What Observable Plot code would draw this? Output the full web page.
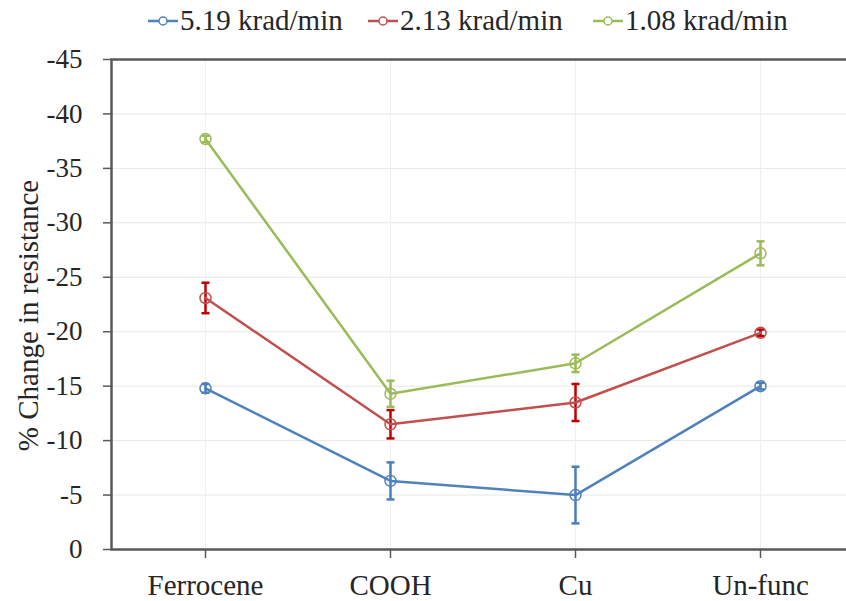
<!DOCTYPE html>
<html>
<head>
<meta charset="utf-8">
<script src="https://cdn.jsdelivr.net/npm/d3@7"></script>
<script src="https://cdn.jsdelivr.net/npm/@observablehq/plot@0.6"></script>
</head>
<body style="margin:0;padding:0;background:#fff;overflow:hidden;font-family:'Liberation Serif'">
<div id="wrap" style="position:relative;width:846px;height:601px;">
  <div id="legend" style="position:absolute;top:4px;left:0;width:846px;height:40px;font-family:'Liberation Serif';font-size:29px;color:#262626;"></div>
</div>
<script>
const categories = ["Ferrocene", "COOH", "Cu", "Un-func"];
const seriesNames = ["5.19 krad/min", "2.13 krad/min", "1.08 krad/min"];
const lineColors = ["#4f81bd", "#c0504d", "#9bbb59"];
const barColors = ["#4a7ebb", "#c00000", "#9bbb59"];
const values519 = [-14.8, -6.3, -5.0, -15.0];
const errors519 = [0.4, 1.7, 2.6, 0.3];
const values213 = [-23.1, -11.5, -13.5, -19.9];
const errors213 = [1.4, 1.3, 1.7, 0.3];
const values108 = [-37.7, -14.3, -17.1, -27.2];
const errors108 = [0.3, 1.2, 0.8, 1.1];
const yTicks = [0, -5, -10, -15, -20, -25, -30, -35, -40, -45];
const yLabel = "% Change in resistance";

const seriesValues = [values519, values213, values108];
const seriesErrors = [errors519, errors213, errors108];

const FONT = "Liberation Serif";
const legendLefts = [148, 368, 593];

const capSymbol = {
  draw(ctx) { ctx.moveTo(-4, 0); ctx.lineTo(4, 0); }
};

const marks = [
  Plot.gridY(yTicks.filter(d => d !== 0 && d !== -45), {stroke: "#e8e8e8", strokeOpacity: 1, strokeWidth: 1}),
  Plot.gridX(categories, {stroke: "#efefef", strokeOpacity: 1, strokeWidth: 1}),
  Plot.frame({stroke: "#595959", strokeWidth: 2.5}),
  Plot.axisY(yTicks, {tickSize: 8, tickPadding: 21, tickFormat: d => String(d), label: null,
    stroke: "#595959", strokeWidth: 1.5, fill: "#262626", fontSize: 27}),
  Plot.axisX(categories, {tickSize: 9, tickPadding: 16, label: null,
    stroke: "#595959", strokeWidth: 1.5, fill: "#262626", fontSize: 29}),
  Plot.text([yLabel], {frameAnchor: "left", textAnchor: "middle", rotate: -90, dx: -83, dy: 11, fontSize: 29, fill: "#262626"})
];

seriesNames.forEach((name, s) => {
  const rows = categories.map((c, i) => ({cat: c, v: seriesValues[s][i], e: seriesErrors[s][i]}));
  marks.push(
    Plot.ruleX(rows, {x: "cat", y1: d => d.v - d.e, y2: d => d.v + d.e, stroke: barColors[s], strokeWidth: 2.5}),
    Plot.dot(rows, {x: "cat", y: d => d.v - d.e, symbol: capSymbol, stroke: barColors[s], strokeWidth: 2.5, fill: "none"}),
    Plot.dot(rows, {x: "cat", y: d => d.v + d.e, symbol: capSymbol, stroke: barColors[s], strokeWidth: 2.5, fill: "none"}),
    Plot.line(rows, {x: "cat", y: "v", stroke: lineColors[s], strokeWidth: 2.5}),
    Plot.dot(rows, {x: "cat", y: "v", r: 5.5, stroke: lineColors[s], strokeWidth: 1.5, fill: "none"})
  );
});

const chart = Plot.plot({
  width: 846,
  height: 601,
  marginLeft: 111,
  marginRight: -8,
  marginTop: 59,
  marginBottom: 52,
  style: {fontFamily: FONT, fontSize: "27px", background: "transparent"},
  x: {type: "point", domain: categories, padding: 0.5},
  y: {domain: [0, -45]},
  marks
});
chart.style.fontFamily = "'Liberation Serif'";
chart.querySelectorAll("g, text").forEach(el => {
  el.setAttribute("font-family", "Liberation Serif");
  el.style.fontFamily = "'Liberation Serif'";
});

const wrap = document.getElementById("wrap");
wrap.insertBefore(chart, wrap.firstChild);

const legend = document.getElementById("legend");
seriesNames.forEach((name, s) => {
  const item = document.createElement("div");
  item.style.cssText = `position:absolute;top:0;left:${legendLefts[s]}px;display:flex;align-items:center;white-space:nowrap;`;
  item.innerHTML = `<svg width="30" height="14" style="margin-right:2px"><line x1="0" y1="7" x2="30" y2="7" stroke="${lineColors[s]}" stroke-width="2.5"/><circle cx="15" cy="7" r="4" fill="white" stroke="${lineColors[s]}" stroke-width="1.5"/></svg><span style="font-family:'Liberation Serif'">${name}</span>`;
  legend.appendChild(item);
});
</script>
</body>
</html>
